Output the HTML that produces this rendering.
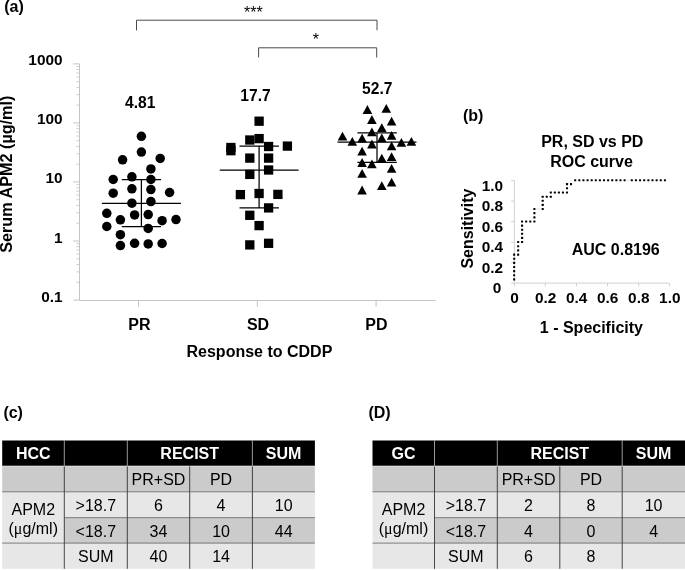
<!DOCTYPE html><html><head><meta charset="utf-8"><style>html,body{margin:0;padding:0;background:#fff}svg{display:block;will-change:transform}text{font-family:"Liberation Sans",sans-serif}.b{font-weight:bold;font-size:16px;fill:#000}.r{font-size:16px;fill:#000}.w{font-weight:bold;font-size:16px;fill:#fff}.n{font-weight:bold;font-size:15.4px;fill:#000}</style></head><body>
<svg width="685" height="570" viewBox="0 0 685 570">
<rect width="685" height="570" fill="#fff"/>
<g stroke="#c4c4c4" stroke-width="1" fill="none">
<path d="M79.5 63.9V300.5H435.7"/>
<path d="M73.2 300.1H79.5"/>
<path d="M76.3 282.3H79.5" stroke-width="0.8"/>
<path d="M76.3 271.9H79.5" stroke-width="0.8"/>
<path d="M76.3 264.5H79.5" stroke-width="0.8"/>
<path d="M76.3 258.8H79.5" stroke-width="0.8"/>
<path d="M76.3 254.1H79.5" stroke-width="0.8"/>
<path d="M76.3 250.1H79.5" stroke-width="0.8"/>
<path d="M76.3 246.7H79.5" stroke-width="0.8"/>
<path d="M76.3 243.7H79.5" stroke-width="0.8"/>
<path d="M73.2 241.0H79.5"/>
<path d="M76.3 223.2H79.5" stroke-width="0.8"/>
<path d="M76.3 212.8H79.5" stroke-width="0.8"/>
<path d="M76.3 205.4H79.5" stroke-width="0.8"/>
<path d="M76.3 199.7H79.5" stroke-width="0.8"/>
<path d="M76.3 195.1H79.5" stroke-width="0.8"/>
<path d="M76.3 191.1H79.5" stroke-width="0.8"/>
<path d="M76.3 187.7H79.5" stroke-width="0.8"/>
<path d="M76.3 184.7H79.5" stroke-width="0.8"/>
<path d="M73.2 181.9H79.5"/>
<path d="M76.3 164.2H79.5" stroke-width="0.8"/>
<path d="M76.3 153.8H79.5" stroke-width="0.8"/>
<path d="M76.3 146.4H79.5" stroke-width="0.8"/>
<path d="M76.3 140.7H79.5" stroke-width="0.8"/>
<path d="M76.3 136.0H79.5" stroke-width="0.8"/>
<path d="M76.3 132.0H79.5" stroke-width="0.8"/>
<path d="M76.3 128.6H79.5" stroke-width="0.8"/>
<path d="M76.3 125.6H79.5" stroke-width="0.8"/>
<path d="M73.2 122.9H79.5"/>
<path d="M76.3 105.1H79.5" stroke-width="0.8"/>
<path d="M76.3 94.7H79.5" stroke-width="0.8"/>
<path d="M76.3 87.3H79.5" stroke-width="0.8"/>
<path d="M76.3 81.6H79.5" stroke-width="0.8"/>
<path d="M76.3 77.0H79.5" stroke-width="0.8"/>
<path d="M76.3 73.0H79.5" stroke-width="0.8"/>
<path d="M76.3 69.6H79.5" stroke-width="0.8"/>
<path d="M76.3 66.6H79.5" stroke-width="0.8"/>
<path d="M73.2 63.9H79.5"/>
<path d="M138.5 300.5V306.8"/>
<path d="M257.3 300.5V306.8"/>
<path d="M376.1 300.5V306.8"/>
</g>
<text class="n" x="62.6" y="65.4" text-anchor="end">1000</text>
<text class="n" x="62.6" y="124.4" text-anchor="end">100</text>
<text class="n" x="62.6" y="183.4" text-anchor="end">10</text>
<text class="n" x="62.6" y="242.5" text-anchor="end">1</text>
<text class="n" x="62.6" y="301.6" text-anchor="end">0.1</text>
<text class="b" style="font-size:16.2px" transform="translate(12.4,174.2) rotate(-90)" text-anchor="middle">Serum APM2 (µg/ml)</text>
<text class="b" x="4.2" y="11.8">(a)</text>
<text class="b" x="139.4" y="330" text-anchor="middle">PR</text>
<text class="b" x="258" y="330" text-anchor="middle">SD</text>
<text class="b" x="376.4" y="330" text-anchor="middle">PD</text>
<text class="b" x="259.4" y="356.6" text-anchor="middle">Response to CDDP</text>
<text class="b" x="140.3" y="107.6" text-anchor="middle" style="font-size:15.6px">4.81</text>
<text class="b" x="255.5" y="100.6" text-anchor="middle" style="font-size:15.6px">17.7</text>
<text class="b" x="377.3" y="94.2" text-anchor="middle" style="font-size:15.6px">52.7</text>
<g stroke="#4a4a4a" stroke-width="1" fill="none">
<path d="M136.5 30.4V20.2H377V30.2"/>
<path d="M258.6 57.5V47.8H376.7V57.5"/>
</g>
<text class="r" x="253.3" y="17.9" text-anchor="middle">***</text>
<text class="r" x="315.9" y="44.9" text-anchor="middle">*</text>
<g fill="#000">
<circle cx="141.4" cy="136.3" r="4.75"/>
<circle cx="141.4" cy="152.1" r="4.75"/>
<circle cx="122.6" cy="159.8" r="4.75"/>
<circle cx="160.2" cy="158.4" r="4.75"/>
<circle cx="150.9" cy="168.9" r="4.75"/>
<circle cx="113.2" cy="179.5" r="4.75"/>
<circle cx="131.9" cy="176.8" r="4.75"/>
<circle cx="150.9" cy="179.5" r="4.75"/>
<circle cx="113.2" cy="193.2" r="4.75"/>
<circle cx="131.9" cy="188.8" r="4.75"/>
<circle cx="150.9" cy="189.6" r="4.75"/>
<circle cx="169.6" cy="192.5" r="4.75"/>
<circle cx="131.9" cy="203.2" r="4.75"/>
<circle cx="150.9" cy="201.6" r="4.75"/>
<circle cx="106.8" cy="213.3" r="4.75"/>
<circle cx="134.6" cy="214.9" r="4.75"/>
<circle cx="148.2" cy="214.6" r="4.75"/>
<circle cx="120.4" cy="219.8" r="4.75"/>
<circle cx="162.1" cy="220.7" r="4.75"/>
<circle cx="176" cy="219.6" r="4.75"/>
<circle cx="106.8" cy="226.5" r="4.75"/>
<circle cx="148.2" cy="228.4" r="4.75"/>
<circle cx="120.4" cy="234.7" r="4.75"/>
<circle cx="120.4" cy="245.6" r="4.75"/>
<circle cx="134.6" cy="243.3" r="4.75"/>
<circle cx="148.2" cy="243.9" r="4.75"/>
<circle cx="162.1" cy="243.5" r="4.75"/>
<rect x="254.45" y="116.55" width="9.3" height="9.3"/>
<rect x="254.45" y="133.95" width="9.3" height="9.3"/>
<rect x="245.15" y="135.35" width="9.3" height="9.3"/>
<rect x="226.25" y="142.85" width="9.3" height="9.3"/>
<rect x="226.25" y="146.05" width="9.3" height="9.3"/>
<rect x="263.95" y="141.85" width="9.3" height="9.3"/>
<rect x="282.75" y="141.45" width="9.3" height="9.3"/>
<rect x="245.15" y="153.45" width="9.3" height="9.3"/>
<rect x="263.95" y="153.45" width="9.3" height="9.3"/>
<rect x="263.95" y="165.35" width="9.3" height="9.3"/>
<rect x="245.15" y="169.75" width="9.3" height="9.3"/>
<rect x="235.75" y="189.95" width="9.3" height="9.3"/>
<rect x="254.45" y="188.85" width="9.3" height="9.3"/>
<rect x="273.25" y="189.75" width="9.3" height="9.3"/>
<rect x="263.95" y="203.25" width="9.3" height="9.3"/>
<rect x="245.15" y="210.65" width="9.3" height="9.3"/>
<rect x="254.45" y="220.95" width="9.3" height="9.3"/>
<rect x="245.15" y="240.25" width="9.3" height="9.3"/>
<rect x="263.95" y="238.65" width="9.3" height="9.3"/>
<path d="M367.4 105.1L372.2 113.9H362.6Z"/>
<path d="M386.3 104.0L391.1 112.8H381.5Z"/>
<path d="M371.9 115.1L376.7 123.9H367.1Z"/>
<path d="M391.6 116.8L396.4 125.6H386.8Z"/>
<path d="M381.8 123.3L386.6 132.1H377.0Z"/>
<path d="M371.9 127.4L376.7 136.2H367.1Z"/>
<path d="M342.5 131.7L347.3 140.5H337.7Z"/>
<path d="M391.6 130.9L396.4 139.7H386.8Z"/>
<path d="M362.1 133.8L366.9 142.6H357.3Z"/>
<path d="M381.8 133.5L386.6 142.3H377.0Z"/>
<path d="M352.3 137.0L357.1 145.8H347.5Z"/>
<path d="M401.4 137.9L406.2 146.7H396.6Z"/>
<path d="M411.4 137.0L416.2 145.8H406.6Z"/>
<path d="M371.9 139.6L376.7 148.4H367.1Z"/>
<path d="M391.6 141.4L396.4 150.2H386.8Z"/>
<path d="M362.1 146.7L366.9 155.5H357.3Z"/>
<path d="M381.8 153.7L386.6 162.5H377.0Z"/>
<path d="M391.6 152.3L396.4 161.1H386.8Z"/>
<path d="M362.1 158.1L366.9 166.9H357.3Z"/>
<path d="M371.9 159.5L376.7 168.3H367.1Z"/>
<path d="M391.6 164.0L396.4 172.8H386.8Z"/>
<path d="M362.1 168.9L366.9 177.7H357.3Z"/>
<path d="M391.6 177.7L396.4 186.5H386.8Z"/>
<path d="M381.8 181.2L386.6 190.0H377.0Z"/>
<path d="M362.1 185.6L366.9 194.4H357.3Z"/>
</g>
<g stroke="#000" stroke-width="1.25" fill="none">
<path d="M121.8 179.5H161M101.9 203.3H180.9M121.8 226.5H161M141.4 179.5V226.5"/>
<path d="M239.5 146H278.9M219.8 170H298.6M239.5 207.9H278.9M259.1 146V207.9"/>
<path d="M357.4 132.8H396.8M337.5 142.1H416.5M357.4 162.4H396.8M377 132.8V162.4"/>
</g>
<g stroke="#d0d0d0" stroke-width="1" fill="none">
<path d="M514.4 180.6V283.1H669.6"/>
<path d="M511.2 283.1H514.4"/>
<path d="M514.4 283.1V286.3"/>
<path d="M511.2 262.6H514.4"/>
<path d="M545.4 283.1V286.3"/>
<path d="M511.2 242.1H514.4"/>
<path d="M576.5 283.1V286.3"/>
<path d="M511.2 221.6H514.4"/>
<path d="M607.5 283.1V286.3"/>
<path d="M511.2 201.1H514.4"/>
<path d="M638.6 283.1V286.3"/>
<path d="M511.2 180.6H514.4"/>
<path d="M669.6 283.1V286.3"/>
</g>
<text class="n" x="501.4" y="293.4" text-anchor="end">0</text>
<text class="n" x="514.6" y="303.0" text-anchor="middle">0</text>
<text class="n" x="503.2" y="272.9" text-anchor="end">0.2</text>
<text class="n" x="545.6" y="303.0" text-anchor="middle">0.2</text>
<text class="n" x="503.2" y="252.4" text-anchor="end">0.4</text>
<text class="n" x="576.7" y="303.0" text-anchor="middle">0.4</text>
<text class="n" x="503.2" y="231.9" text-anchor="end">0.6</text>
<text class="n" x="607.7" y="303.0" text-anchor="middle">0.6</text>
<text class="n" x="503.2" y="211.4" text-anchor="end">0.8</text>
<text class="n" x="638.8" y="303.0" text-anchor="middle">0.8</text>
<text class="n" x="503.2" y="190.9" text-anchor="end">1.0</text>
<text class="n" x="669.8" y="303.0" text-anchor="middle">1.0</text>
<text class="b" transform="translate(472.5,228.6) rotate(-90)" text-anchor="middle">Sensitivity</text>
<text class="b" x="591.4" y="332.5" text-anchor="middle">1 - Specificity</text>
<text class="b" x="592.3" y="147" text-anchor="middle">PR, SD vs PD</text>
<text class="b" x="591.5" y="166.6" text-anchor="middle">ROC curve</text>
<text class="b" x="463" y="120.8">(b)</text>
<text class="b" x="615.7" y="254.8" text-anchor="middle">AUC 0.8196</text>
<g fill="#000">
<rect x="513.10" y="253.55" width="2.1" height="2.1" rx="0.5"/>
<rect x="513.10" y="257.68" width="2.1" height="2.1" rx="0.5"/>
<rect x="513.10" y="261.82" width="2.1" height="2.1" rx="0.5"/>
<rect x="513.10" y="265.95" width="2.1" height="2.1" rx="0.5"/>
<rect x="513.10" y="270.08" width="2.1" height="2.1" rx="0.5"/>
<rect x="513.10" y="274.22" width="2.1" height="2.1" rx="0.5"/>
<rect x="513.10" y="278.35" width="2.1" height="2.1" rx="0.5"/>
<rect x="517.10" y="240.95" width="2.1" height="2.1" rx="0.5"/>
<rect x="517.10" y="245.15" width="2.1" height="2.1" rx="0.5"/>
<rect x="517.10" y="249.35" width="2.1" height="2.1" rx="0.5"/>
<rect x="517.10" y="253.55" width="2.1" height="2.1" rx="0.5"/>
<rect x="521.00" y="220.45" width="2.1" height="2.1" rx="0.5"/>
<rect x="521.00" y="224.55" width="2.1" height="2.1" rx="0.5"/>
<rect x="521.00" y="228.65" width="2.1" height="2.1" rx="0.5"/>
<rect x="521.00" y="232.75" width="2.1" height="2.1" rx="0.5"/>
<rect x="521.00" y="236.85" width="2.1" height="2.1" rx="0.5"/>
<rect x="521.00" y="240.95" width="2.1" height="2.1" rx="0.5"/>
<rect x="525.12" y="220.45" width="2.1" height="2.1" rx="0.5"/>
<rect x="529.23" y="220.45" width="2.1" height="2.1" rx="0.5"/>
<rect x="533.35" y="207.95" width="2.1" height="2.1" rx="0.5"/>
<rect x="533.35" y="212.12" width="2.1" height="2.1" rx="0.5"/>
<rect x="533.35" y="216.28" width="2.1" height="2.1" rx="0.5"/>
<rect x="533.35" y="220.45" width="2.1" height="2.1" rx="0.5"/>
<rect x="541.65" y="195.65" width="2.1" height="2.1" rx="0.5"/>
<rect x="541.65" y="199.75" width="2.1" height="2.1" rx="0.5"/>
<rect x="541.65" y="203.85" width="2.1" height="2.1" rx="0.5"/>
<rect x="541.65" y="207.95" width="2.1" height="2.1" rx="0.5"/>
<rect x="545.70" y="195.65" width="2.1" height="2.1" rx="0.5"/>
<rect x="549.75" y="191.45" width="2.1" height="2.1" rx="0.5"/>
<rect x="549.75" y="195.65" width="2.1" height="2.1" rx="0.5"/>
<rect x="553.80" y="191.45" width="2.1" height="2.1" rx="0.5"/>
<rect x="557.85" y="191.45" width="2.1" height="2.1" rx="0.5"/>
<rect x="561.90" y="191.45" width="2.1" height="2.1" rx="0.5"/>
<rect x="565.95" y="183.05" width="2.1" height="2.1" rx="0.5"/>
<rect x="565.95" y="187.25" width="2.1" height="2.1" rx="0.5"/>
<rect x="565.95" y="191.45" width="2.1" height="2.1" rx="0.5"/>
<rect x="569.95" y="183.05" width="2.1" height="2.1" rx="0.5"/>
<rect x="574.15" y="179.15" width="2.1" height="2.1" rx="0.5"/>
<rect x="578.27" y="179.15" width="2.1" height="2.1" rx="0.5"/>
<rect x="582.38" y="179.15" width="2.1" height="2.1" rx="0.5"/>
<rect x="586.50" y="179.15" width="2.1" height="2.1" rx="0.5"/>
<rect x="590.62" y="179.15" width="2.1" height="2.1" rx="0.5"/>
<rect x="594.73" y="179.15" width="2.1" height="2.1" rx="0.5"/>
<rect x="598.85" y="179.15" width="2.1" height="2.1" rx="0.5"/>
<rect x="602.97" y="179.15" width="2.1" height="2.1" rx="0.5"/>
<rect x="607.08" y="179.15" width="2.1" height="2.1" rx="0.5"/>
<rect x="611.20" y="179.15" width="2.1" height="2.1" rx="0.5"/>
<rect x="615.32" y="179.15" width="2.1" height="2.1" rx="0.5"/>
<rect x="619.43" y="179.15" width="2.1" height="2.1" rx="0.5"/>
<rect x="623.55" y="179.15" width="2.1" height="2.1" rx="0.5"/>
<rect x="630.75" y="179.15" width="2.1" height="2.1" rx="0.5"/>
<rect x="634.89" y="179.15" width="2.1" height="2.1" rx="0.5"/>
<rect x="639.02" y="179.15" width="2.1" height="2.1" rx="0.5"/>
<rect x="643.16" y="179.15" width="2.1" height="2.1" rx="0.5"/>
<rect x="647.30" y="179.15" width="2.1" height="2.1" rx="0.5"/>
<rect x="651.44" y="179.15" width="2.1" height="2.1" rx="0.5"/>
<rect x="655.57" y="179.15" width="2.1" height="2.1" rx="0.5"/>
<rect x="659.71" y="179.15" width="2.1" height="2.1" rx="0.5"/>
<rect x="663.85" y="179.15" width="2.1" height="2.1" rx="0.5"/>
</g>
<path d="M535.4 209H541.7M625.6 180.2H630.8" stroke="#c8c8c8" stroke-width="0.5" fill="none"/>
<text class="b" x="3.4" y="418.2">(c)</text>
<rect x="2.2" y="440.5" width="312.7" height="25.399999999999977" fill="#000"/>
<rect x="2.2" y="465.9" width="312.7" height="25.900000000000034" fill="#cbcbcb"/>
<rect x="2.2" y="491.8" width="312.7" height="76.99999999999994" fill="#e7e7e7"/>
<rect x="64.3" y="517.7" width="250.59999999999997" height="25.399999999999977" fill="#cbcbcb"/>
<g stroke="#fff" stroke-width="0.6" fill="none">
<path d="M64.3 440.5V465.9"/>
<path d="M127.3 440.5V465.9"/>
<path d="M252.4 440.5V465.9"/>
<path d="M2.2 466.2H314.9" stroke-width="0.4"/>
</g>
<g stroke="#111" stroke-width="0.75" fill="none">
<path d="M64.3 466.4V568.8"/>
<path d="M127.3 466.4V568.8"/>
<path d="M189.7 466.4V568.8"/>
<path d="M252.4 466.4V568.8"/>
</g>
<g stroke="#444" stroke-width="0.65" fill="none">
<path d="M2.2 491.8H314.9"/>
<path d="M64.3 517.7H314.9"/>
<path d="M2.2 543.1H314.9"/>
</g>
<text class="w" x="33.25" y="459.4" text-anchor="middle">HCC</text>
<text class="w" x="189.7" y="459.4" text-anchor="middle">RECIST</text>
<text class="w" x="283.65" y="459.4" text-anchor="middle">SUM</text>
<text class="r" x="158.5" y="485.05" text-anchor="middle">PR+SD</text>
<text class="r" x="221.05" y="485.05" text-anchor="middle">PD</text>
<text class="r" x="33.25" y="514.8" text-anchor="middle">APM2</text>
<text class="r" x="33.25" y="533.8" text-anchor="middle">(<tspan font-family="Liberation Serif, serif">μ</tspan>g/ml)</text>
<text class="r" x="95.8" y="510.95" text-anchor="middle">&gt;18.7</text>
<text class="r" x="95.8" y="536.6000000000001" text-anchor="middle">&lt;18.7</text>
<text class="r" x="95.8" y="562.1500000000001" text-anchor="middle">SUM</text>
<text class="r" x="158.5" y="510.95" text-anchor="middle">6</text>
<text class="r" x="221.05" y="510.95" text-anchor="middle">4</text>
<text class="r" x="283.65" y="510.95" text-anchor="middle">10</text>
<text class="r" x="158.5" y="536.6000000000001" text-anchor="middle">34</text>
<text class="r" x="221.05" y="536.6000000000001" text-anchor="middle">10</text>
<text class="r" x="283.65" y="536.6000000000001" text-anchor="middle">44</text>
<text class="r" x="158.5" y="562.1500000000001" text-anchor="middle">40</text>
<text class="r" x="221.05" y="562.1500000000001" text-anchor="middle">14</text>
<text class="b" x="368.4" y="418.2">(D)</text>
<rect x="372.5" y="440.5" width="312.5" height="25.399999999999977" fill="#000"/>
<rect x="372.5" y="465.9" width="312.5" height="25.900000000000034" fill="#cbcbcb"/>
<rect x="372.5" y="491.8" width="312.5" height="76.99999999999994" fill="#e7e7e7"/>
<rect x="434.5" y="517.7" width="250.5" height="25.399999999999977" fill="#cbcbcb"/>
<g stroke="#fff" stroke-width="0.6" fill="none">
<path d="M434.5 440.5V465.9"/>
<path d="M497.3 440.5V465.9"/>
<path d="M622.2 440.5V465.9"/>
<path d="M372.5 466.2H685" stroke-width="0.4"/>
</g>
<g stroke="#111" stroke-width="0.75" fill="none">
<path d="M434.5 466.4V568.8"/>
<path d="M497.3 466.4V568.8"/>
<path d="M559.8 466.4V568.8"/>
<path d="M622.2 466.4V568.8"/>
</g>
<g stroke="#444" stroke-width="0.65" fill="none">
<path d="M372.5 491.8H685"/>
<path d="M434.5 517.7H685"/>
<path d="M372.5 543.1H685"/>
</g>
<text class="w" x="403.5" y="459.4" text-anchor="middle">GC</text>
<text class="w" x="559.8" y="459.4" text-anchor="middle">RECIST</text>
<text class="w" x="653.6" y="459.4" text-anchor="middle">SUM</text>
<text class="r" x="528.55" y="485.05" text-anchor="middle">PR+SD</text>
<text class="r" x="591.0" y="485.05" text-anchor="middle">PD</text>
<text class="r" x="403.5" y="514.8" text-anchor="middle">APM2</text>
<text class="r" x="403.5" y="533.8" text-anchor="middle">(<tspan font-family="Liberation Serif, serif">μ</tspan>g/ml)</text>
<text class="r" x="465.9" y="510.95" text-anchor="middle">&gt;18.7</text>
<text class="r" x="465.9" y="536.6000000000001" text-anchor="middle">&lt;18.7</text>
<text class="r" x="465.9" y="562.1500000000001" text-anchor="middle">SUM</text>
<text class="r" x="528.55" y="510.95" text-anchor="middle">2</text>
<text class="r" x="591.0" y="510.95" text-anchor="middle">8</text>
<text class="r" x="653.6" y="510.95" text-anchor="middle">10</text>
<text class="r" x="528.55" y="536.6000000000001" text-anchor="middle">4</text>
<text class="r" x="591.0" y="536.6000000000001" text-anchor="middle">0</text>
<text class="r" x="653.6" y="536.6000000000001" text-anchor="middle">4</text>
<text class="r" x="528.55" y="562.1500000000001" text-anchor="middle">6</text>
<text class="r" x="591.0" y="562.1500000000001" text-anchor="middle">8</text>
</svg></body></html>
